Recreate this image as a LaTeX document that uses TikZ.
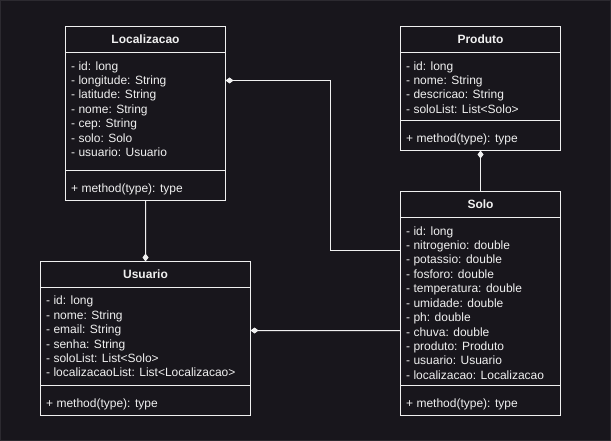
\documentclass[tikz,border=0pt]{standalone}
\usepackage{fontspec}
\setmainfont{Liberation Sans}
\usepackage{tikz}
\usetikzlibrary{arrows.meta}
\usetikzlibrary{calc}

\definecolor{fond}{HTML}{18161C}
\definecolor{cadre}{HTML}{2C2A30}
\definecolor{trait}{HTML}{F0F0F0}

\tikzset{
    classe/.style={draw=trait, line width=1bp, anchor=north west, inner sep=0pt, outer sep=0pt},
    titre/.style={anchor=base, text=trait, font=\fontsize{12bp}{14.4bp}\selectfont\bfseries},
    attribut/.style={anchor=base west, inner sep=0pt, text=trait, font=\fontsize{12bp}{14.4bp}\selectfont},
    agreg/.style={draw=trait, line width=1bp, {Diamond[length=8bp,width=6bp,fill=trait]}-}
}

\begin{document}
\begin{tikzpicture}[x=1bp,y=-1bp]
            \fill[fond] (0,0) rectangle (611,441);
            \draw[cadre] (0.5,0.5) rectangle (610.5,440.5);
            \node[classe, minimum width=160bp, minimum height=174bp] (loc) at (65.5,26.5) {};
            \node[classe, minimum width=160bp, minimum height=124bp] (prod) at (400.5,26.5) {};
            \node[classe, minimum width=160bp, minimum height=224bp] (solo) at (400.5,191.5) {};
            \node[classe, minimum width=210bp, minimum height=154bp] (usu) at (40.5,261.5) {};
            \draw[trait, line width=1bp] (65.5,52.5) -- (225.5,52.5);
            \draw[trait, line width=1bp] (65.5,170.5) -- (225.5,170.5);
            \draw[trait, line width=1bp] (400.5,52.5) -- (560.5,52.5);
            \draw[trait, line width=1bp] (400.5,120.5) -- (560.5,120.5);
            \draw[trait, line width=1bp] (400.5,217.5) -- (560.5,217.5);
            \draw[trait, line width=1bp] (400.5,385.5) -- (560.5,385.5);
            \draw[trait, line width=1bp] (40.5,287.5) -- (250.5,287.5);
            \draw[trait, line width=1bp] (40.5,385.5) -- (250.5,385.5);
            \node[titre] (locT) at (145.5,44) {Localizacao};
            \node[titre] (prodT) at (480.5,44) {Produto};
            \node[titre] (soloT) at (480.5,208.8) {Solo};
            \node[titre] (usuT) at (145.5,279) {Usuario};
            \foreach \a [count=\i from 0] in {- id: long,- longitude: String,- latitude: String,- nome: String,- cep: String,- solo: Solo,- usuario: Usuario} {
                \node[attribut] (loc-\i) at (71,{70.2+14.4*\i}) {\a};
            }
            \foreach \a [count=\i from 0] in {- id: long,- nome: String,- descricao: String,- soloList: List<Solo>} {
                \node[attribut] (prod-\i) at (406,{70.2+14.4*\i}) {\a};
            }
            \foreach \a [count=\i from 0] in {- id: long,- nitrogenio: double,- potassio: double,- fosforo: double,- temperatura: double,- umidade: double,- ph: double,- chuva: double,- produto: Produto,- usuario: Usuario,- localizacao: Localizacao} {
                \node[attribut] (solo-\i) at (406,{235.2+14.4*\i}) {\a};
            }
            \foreach \a [count=\i from 0] in {- id: long,- nome: String,- email: String,- senha: String,- soloList: List<Solo>,- localizacaoList: List<Localizacao>} {
                \node[attribut] (usu-\i) at (46,{304.8+14.4*\i}) {\a};
            }
            \node[attribut] (locM) at (71,192.2) {+ method(type): type};
            \node[attribut] (prodM) at (406,142.2) {+ method(type): type};
            \node[attribut] (soloM) at (406,407) {+ method(type): type};
            \node[attribut] (usuM) at (46,407) {+ method(type): type};
            \draw[agreg] ([yshift=-54bp]loc.north east) -- ++(105,0) |- ([yshift=-59bp]solo.north west);
            \draw[agreg] (usu.north) -- (loc.south);
            \draw[agreg] ([yshift=-69bp]usu.north east) -- ([yshift=-139bp]solo.north west);
            \draw[agreg] (prod.south) -- (solo.north);
        \end{tikzpicture}
\end{document}
